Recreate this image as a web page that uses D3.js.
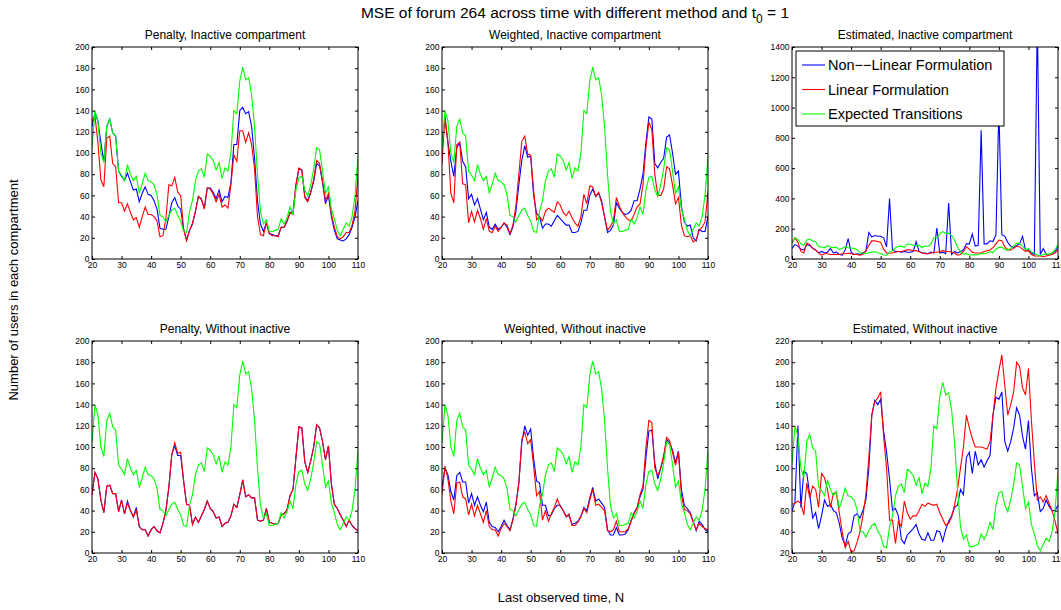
<!DOCTYPE html>
<meta charset="utf-8">
<script src="https://d3js.org/d3.v7.min.js"></script>
<style>
  body { margin: 0; background: #fff; }
  text { font-family: "Liberation Sans", Arial, sans-serif; fill: #000; }
</style>
<div id="my_dataviz"></div>
<script>

// time points N = 20..110
var times = d3.range(20, 111);

// expected transitions (same series in every panel)
var expected = [104,140,130,100,91,125,132,119,116,83,79,74,89,80,74,78,62,71,81,74,
  73,70,61,41,40,35,41,46,48,41,36,26,25,45,55,74,83,85,77,99,
  97,93,84,91,76,86,83,100,140,137,168,181,169,171,155,125,80,45,33,37,
  26,26,27,28,38,33,39,49,42,65,77,78,65,59,70,85,105,103,83,62,
  68,47,38,27,22,28,34,31,40,60,97];

// Penalty, Inactive compartment
var penInBlue = [125,138,130,110,92,125,132,119,116,83,78,74,81,73,65,66,54,62,68,61,
  60,55,47,29,28,28,40,53,58,50,47,28,18,27,33,45,59,56,48,67,
  67,63,57,65,54,59,58,72,108,108,140,143,137,139,125,95,55,33,26,34,
  24,23,22,22,30,30,36,44,44,70,85,84,59,55,63,73,90,88,72,52,
  60,40,27,19,18,17,19,23,30,40,55];
var penInRed = [130,135,110,75,68,114,116,90,87,53,53,45,52,44,37,39,30,40,49,42,
  42,40,36,21,22,38,70,69,77,63,60,28,17,27,34,45,59,57,47,67,
  66,61,54,61,49,51,48,70,98,92,121,121,110,119,108,85,40,23,22,34,
  24,22,22,21,30,30,35,44,42,70,86,84,58,54,63,75,93,90,74,55,
  62,42,30,21,19,21,25,25,32,45,80];

// Weighted, Inactive compartment
var wtInBlue = [110,132,110,92,78,105,110,92,87,57,61,51,57,47,37,44,30,28,33,28,
  30,34,30,23,30,45,70,93,107,96,97,60,43,40,29,33,33,31,36,41,
  38,35,32,32,25,25,26,34,46,46,60,66,59,62,55,40,25,27,32,53,
  48,44,42,43,46,55,55,66,80,110,134,132,90,86,91,95,115,117,100,80,
  83,50,35,31,32,20,17,28,26,26,40];
var wtInRed = [90,135,110,62,53,108,110,71,70,34,45,35,46,38,28,38,26,25,31,26,
  30,34,32,24,32,50,80,111,116,99,98,65,37,40,36,45,48,46,44,54,
  51,44,41,45,39,34,31,40,61,52,69,68,59,63,53,40,27,31,36,58,
  50,44,40,37,36,42,49,52,70,105,129,122,80,60,60,66,87,85,70,52,
  58,32,22,21,22,16,18,27,30,35,64];

// Estimated, Inactive compartment
var estInBlue = [70,95,85,65,60,95,90,70,60,40,50,40,45,70,40,45,30,25,60,135,
  45,30,35,30,40,50,175,145,155,150,150,140,80,400,60,50,50,45,50,45,
  45,50,115,50,40,40,35,45,40,205,40,45,35,370,30,50,40,50,60,100,
  100,165,85,90,850,100,100,120,115,160,1000,160,150,110,85,75,90,100,150,60,
  60,40,30,1600,30,70,30,30,40,50,80];
var estInRed = [110,140,110,50,40,105,95,70,60,40,25,35,35,30,30,30,30,35,35,40,
  35,30,30,25,30,55,90,120,120,115,110,65,40,40,40,45,50,50,55,60,
  60,55,55,50,40,35,35,40,45,45,50,55,50,50,45,40,25,30,50,80,
  65,45,40,40,40,50,55,60,75,100,125,120,80,60,60,70,85,80,65,50,
  55,30,20,20,20,15,20,25,30,40,60];

// Penalty, Without inactive
var penWoRed = [55,76,70,50,38,63,64,56,56,39,50,37,47,40,34,40,25,22,22,16,
  22,25,21,19,28,40,62,93,104,94,95,68,46,45,27,34,29,35,41,49,
  42,39,33,34,25,28,29,35,46,43,55,69,53,55,52,52,31,30,31,42,
  29,28,27,28,36,37,41,54,60,90,119,118,86,76,87,100,121,118,105,88,
  101,65,46,42,36,31,25,31,26,23,21];
var penWoBlue = [55,76,70,50,38,63,64,56,56,39,50,37,49,40,34,43,25,22,22,16,
  22,25,21,19,28,40,62,93,101,92,92,68,46,45,27,34,29,35,41,49,
  42,39,33,34,25,28,29,35,46,43,55,69,53,55,52,52,31,30,31,42,
  29,28,27,28,36,37,41,54,60,90,119,118,86,76,87,100,121,118,105,88,
  101,65,46,42,36,31,25,31,26,23,21];

// Weighted, Without inactive
var wtWoBlue = [62,80,74,58,50,73,76,67,67,47,56,45,53,45,39,48,29,25,24,20,
  25,31,26,22,32,46,67,104,120,111,117,89,68,66,45,45,35,36,42,45,
  45,40,35,35,27,28,30,35,43,40,52,62,49,51,47,43,22,17,17,24,
  17,17,18,22,31,38,43,53,60,90,115,116,85,70,80,90,107,104,97,85,
  96,60,45,42,38,30,21,30,27,22,20];
var wtWoRed = [55,82,70,49,37,66,67,53,51,36,46,35,45,37,29,40,25,22,22,16,
  23,28,25,21,31,45,65,107,114,103,107,82,54,58,31,40,30,37,43,51,
  44,40,34,37,26,26,29,34,42,38,50,60,45,46,43,40,21,20,22,30,
  20,20,20,23,30,37,42,55,63,100,125,123,80,73,80,92,109,106,95,83,
  95,55,41,40,37,29,22,28,25,23,22];

// Estimated, Without inactive
var estWoBlue = [60,68,140,63,97,95,75,53,58,43,55,70,64,66,60,58,48,34,27,38,
  40,55,57,53,60,70,100,150,164,160,165,135,115,90,60,62,55,33,29,37,
  40,43,47,38,33,32,39,32,32,41,40,31,42,50,55,63,65,80,75,110,
  115,95,116,103,108,101,107,112,150,167,165,172,125,116,125,138,157,150,130,118,
  145,100,74,77,59,62,70,64,60,60,65];
var estWoRed = [66,67,69,67,56,86,72,83,80,63,95,91,80,63,76,77,58,40,25,31,
  21,22,30,40,55,75,110,150,163,166,172,130,100,51,51,29,50,45,69,58,
  52,55,55,60,66,64,67,66,65,66,58,52,46,48,54,65,80,100,120,150,
  138,128,120,120,120,119,118,125,150,175,192,207,178,150,160,172,200,196,176,169,
  194,145,105,70,73,68,74,67,60,50,38];

var xTicks = d3.range(20, 111, 10);
var yTicksA = d3.range(0, 201, 20);
var yTicksB = d3.range(0, 1401, 200);
var yTicksC = d3.range(20, 221, 20);

var seriesNames = ["Non\u2212\u2212Linear Formulation", "Linear Formulation", "Expected Transitions"];
var colors = ["#0000ff", "#ff0000", "#00ff00"];

var panels = [
  {title: "Penalty, Inactive compartment", col: 0, row: 0, ydom: [0, 200], yt: yTicksA, blue: penInBlue, red: penInRed},
  {title: "Weighted, Inactive compartment", col: 1, row: 0, ydom: [0, 200], yt: yTicksA, blue: wtInBlue, red: wtInRed},
  {title: "Estimated, Inactive compartment", col: 2, row: 0, ydom: [0, 1400], yt: yTicksB, blue: estInBlue, red: estInRed, legend: true},
  {title: "Penalty, Without inactive", col: 0, row: 1, ydom: [0, 200], yt: yTicksA, blue: penWoBlue, red: penWoRed},
  {title: "Weighted, Without inactive", col: 1, row: 1, ydom: [0, 200], yt: yTicksA, blue: wtWoBlue, red: wtWoRed},
  {title: "Estimated, Without inactive", col: 2, row: 1, ydom: [20, 220], yt: yTicksC, blue: estWoBlue, red: estWoRed}
];

var W = 1061, H = 610;
var colX = [92, 442, 792], rowY = [47, 341];
var pw = 266, ph = 212;

var svg = d3.select("#my_dataviz")
  .append("svg")
    .attr("width", W)
    .attr("height", H);

// main title with subscript, centred over the middle column like suptitle
var title = svg.append("text")
  .attr("x", 575)
  .attr("y", 18)
  .attr("text-anchor", "middle")
  .style("font-size", "15.5px");
title.append("tspan").text("MSE of forum 264 across time with different method and t");
title.append("tspan").attr("dy", 5).style("font-size", "12px").text("0");
title.append("tspan").attr("dy", -5).text(" = 1");

// shared axis labels
svg.append("text")
  .attr("transform", "translate(18,290) rotate(-90)")
  .attr("text-anchor", "middle")
  .style("font-size", "13px")
  .text("Number of users in each compartment");

svg.append("text")
  .attr("x", 561)
  .attr("y", 602)
  .attr("text-anchor", "middle")
  .style("font-size", "13px")
  .text("Last observed time, N");

panels.forEach(function(p, i) {
  var g = svg.append("g")
    .attr("transform", "translate(" + colX[p.col] + "," + rowY[p.row] + ")");

  var x = d3.scaleLinear().domain([20, 110]).range([0, pw]);
  var y = d3.scaleLinear().domain(p.ydom).range([ph, 0]);

  g.append("text")
    .attr("x", pw / 2)
    .attr("y", -8)
    .attr("text-anchor", "middle")
    .style("font-size", "12px")
    .text(p.title);

  g.append("clipPath")
    .attr("id", "clip" + i)
    .append("rect")
      .attr("width", pw)
      .attr("height", ph);

  var line = d3.line()
    .x(function(d, j) { return x(times[j]); })
    .y(function(d) { return y(d); });

  var lines = g.append("g").attr("clip-path", "url(#clip" + i + ")");
  [p.blue, p.red, expected].forEach(function(s, k) {
    lines.append("path")
      .datum(s)
      .attr("fill", "none")
      .attr("stroke", colors[k])
      .attr("stroke-width", 1.1)
      .attr("d", line);
  });

  // axes, ticks pointing inward like matlab
  g.append("g")
    .attr("transform", "translate(0," + ph + ")")
    .call(d3.axisBottom(x).tickValues(xTicks).tickSizeInner(-3).tickSizeOuter(0).tickPadding(3).tickFormat(d3.format("d")));
  g.append("g")
    .call(d3.axisLeft(y).tickValues(p.yt).tickSizeInner(-3).tickSizeOuter(0).tickPadding(2.5).tickFormat(d3.format("d")));
  g.append("g")
    .call(d3.axisTop(x).tickValues(xTicks).tickSizeInner(-3).tickSizeOuter(0).tickFormat(""));
  g.append("g")
    .attr("transform", "translate(" + pw + ",0)")
    .call(d3.axisRight(y).tickValues(p.yt).tickSizeInner(-3).tickSizeOuter(0).tickFormat(""));

  g.selectAll(".domain").remove();
  g.selectAll(".tick line").attr("stroke", "#000");
  g.selectAll(".tick text")
    .style("font-size", "8.5px")
    .style("font-family", "'Liberation Sans', Arial, sans-serif")
    .attr("fill", "#000");

  g.append("rect")
    .attr("width", pw)
    .attr("height", ph)
    .attr("fill", "none")
    .attr("stroke", "#000")
    .attr("stroke-width", 1);

  if (p.legend) {
    var lg = g.append("g").attr("transform", "translate(4,4)");
    lg.append("rect")
      .attr("width", 208)
      .attr("height", 75)
      .attr("fill", "#fff")
      .attr("stroke", "#000");
    seriesNames.forEach(function(n, k) {
      var yy = 14 + k * 24.5;
      lg.append("line")
        .attr("x1", 6).attr("x2", 29)
        .attr("y1", yy).attr("y2", yy)
        .attr("stroke", colors[k])
        .attr("stroke-width", 1.1);
      lg.append("text")
        .attr("x", 32)
        .attr("y", yy + 5)
        .style("font-size", "14.5px")
        .text(n);
    });
  }
});

</script>
